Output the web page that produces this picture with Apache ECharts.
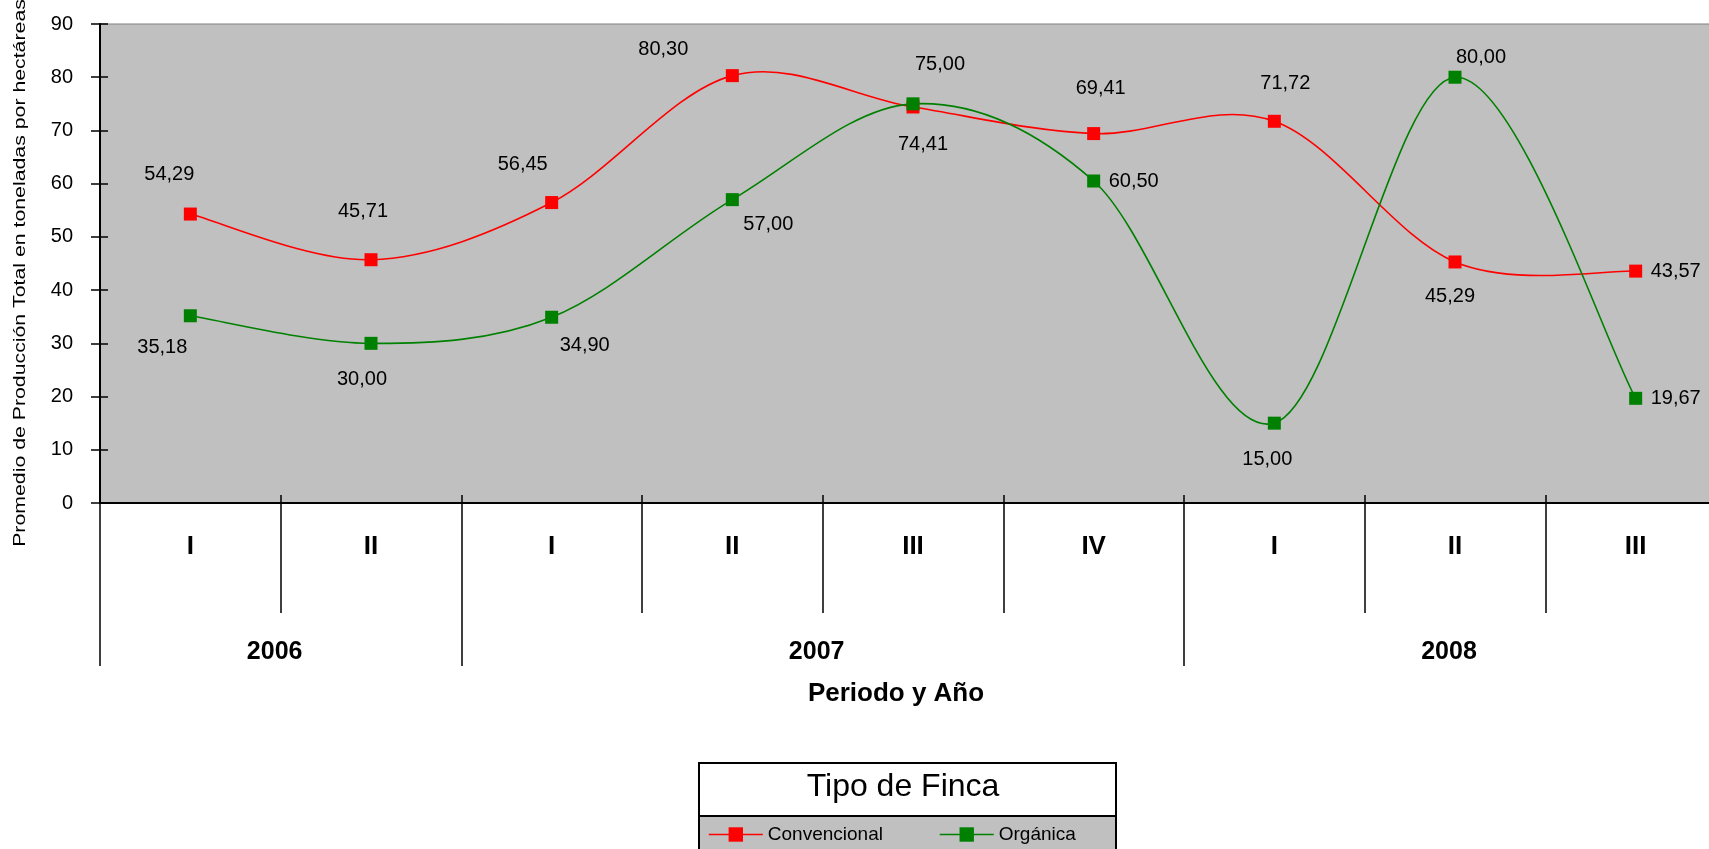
<!DOCTYPE html>
<html>
<head>
<meta charset="utf-8">
<script src="https://cdn.jsdelivr.net/npm/echarts@6/dist/echarts.min.js"></script>
<style>
  html, body { margin: 0; padding: 0; background: #fff; overflow: hidden; }
  /* the plot area runs on past the right edge of the page */
  #chart { width: 1760px; height: 849px; }
</style>
</head>
<body>
<div id="chart"></div>
<script>
// Periods (quarters / cuatrimestres) and the year each run of periods belongs to
const periods = ['I', 'II', 'I', 'II', 'III', 'IV', 'I', 'II', 'III'];
const years = ['2006', '2007', '2008'];
const yearSpans = [[0, 2], [2, 6], [6, 9]]; // [first period, end period) for each year

// Average production (t/ha) by type of farm
const convencional = [54.29, 45.71, 56.45, 80.30, 74.41, 69.41, 71.72, 45.29, 43.57];
const organica     = [35.18, 30.00, 34.90, 57.00, 75.00, 60.50, 15.00, 80.00, 19.67];

// Value axis scale
const yMin = 0, yMax = 90, yStep = 10;

// Where each value label sits relative to its marker (px)
const convLabelOffsets = [[-21, -40], [-8, -48], [-29, -38], [-69, -26], [10, 38], [7, -45], [11, -38], [-5, 35], [40, 0]];
const orgLabelOffsets  = [[-28, 32], [-9, 36], [33, 28], [36, 25], [27, -39], [40, 0], [-7, 36], [26, -20], [40, 0]];

const FONT = '"Liberation Sans", Arial, sans-serif';
const RED = '#FF0000';
const GREEN = '#008000';
const LINE_W = 1.6;

const fmt = v => v.toFixed(2).replace('.', ',');

function seriesData(values, offsets) {
  return values.map((v, i) => ({ value: v, label: { offset: offsets[i] } }));
}

// Smoothed connecting curve: one cubic Bezier per pair of neighbouring points,
// with Catmull-Rom style tangents taken from the points on either side.
function curveRenderer(values, color) {
  const last = values.length - 1;
  return function (params, api) {
    const i = params.dataIndex;
    if (i >= last) return null;
    const pt = k => {
      const j = Math.max(0, Math.min(last, k));
      return api.coord([j, values[j]]);
    };
    const p0 = pt(i - 1), p1 = pt(i), p2 = pt(i + 1), p3 = pt(i + 2);
    return {
      type: 'bezierCurve',
      shape: {
        x1: p1[0], y1: p1[1], x2: p2[0], y2: p2[1],
        cpx1: p1[0] + (p2[0] - p0[0]) / 6, cpy1: p1[1] + (p2[1] - p0[1]) / 6,
        cpx2: p2[0] - (p3[0] - p1[0]) / 6, cpy2: p2[1] - (p3[1] - p1[1]) / 6
      },
      style: { stroke: color, lineWidth: LINE_W, fill: null }
    };
  };
}

const chart = echarts.init(document.getElementById('chart'), null, { renderer: 'canvas' });

const gridLeft = 100, gridTop = 24, gridWidth = 1626, gridHeight = 479;

const baseX = {
  type: 'category',
  data: periods,
  gridIndex: 0,
  position: 'bottom',
  boundaryGap: true,
  axisLabel: { show: false },
  axisLine: { show: false },
  splitLine: { show: false }
};

const labelStyle = {
  show: true, position: 'inside', color: '#000',
  fontFamily: FONT, fontSize: 20,
  formatter: p => fmt(p.value)
};

const option = {
  animation: false,
  backgroundColor: '#fff',
  grid: {
    left: gridLeft, top: gridTop, width: gridWidth, height: gridHeight,
    show: true, backgroundColor: '#C0C0C0', borderColor: '#808080', borderWidth: 1
  },
  xAxis: [
    {
      ...baseX,
      axisLine: { show: true, lineStyle: { color: '#000', width: 2 } },
      axisTick: { show: true, length: 110, lineStyle: { color: '#000', width: 1.5 } },
      axisLabel: {
        show: true, margin: 31, color: '#000',
        fontFamily: FONT, fontSize: 26, fontWeight: 'bold'
      }
    },
    {
      ...baseX,
      axisTick: { show: true, inside: true, length: 8, lineStyle: { color: '#000', width: 1.5 } }
    },
    {
      ...baseX,
      axisTick: {
        show: true, length: 163,
        interval: (index) => yearSpans.some(s => s[0] === index),
        lineStyle: { color: '#000', width: 1.5 }
      }
    }
  ],
  yAxis: [
    {
      type: 'value', min: yMin, max: yMax, interval: yStep,
      axisLine: { show: true, lineStyle: { color: '#000', width: 2 } },
      axisTick: { show: true, length: 9, lineStyle: { color: '#000', width: 1.5 } },
      axisLabel: { margin: 27, color: '#000', fontFamily: FONT, fontSize: 20 },
      splitLine: { show: false }
    },
    {
      type: 'value', min: yMin, max: yMax, interval: yStep, position: 'left',
      axisLine: { show: false },
      axisTick: { show: true, inside: true, length: 8, lineStyle: { color: '#000', width: 1.5 } },
      axisLabel: { show: false },
      splitLine: { show: false }
    }
  ],
  legend: {
    data: [
      { name: 'Convencional', lineStyle: { color: RED, width: LINE_W, opacity: 1 } },
      { name: 'Orgánica', lineStyle: { color: GREEN, width: LINE_W, opacity: 1 } }
    ],
    left: 708, top: 825,
    orient: 'horizontal',
    itemWidth: 54, itemHeight: 18, itemGap: 56,
    padding: 0,
    textStyle: { color: '#000', fontFamily: FONT, fontSize: 19 }
  },
  series: [
    {
      type: 'custom',
      renderItem: curveRenderer(convencional, RED),
      data: convencional.map((v, i) => [i, v]),
      encode: { x: 0, y: 1 },
      silent: true,
      z: 2
    },
    {
      type: 'custom',
      renderItem: curveRenderer(organica, GREEN),
      data: organica.map((v, i) => [i, v]),
      encode: { x: 0, y: 1 },
      silent: true,
      z: 2.5
    },
    {
      name: 'Convencional',
      type: 'line',
      data: seriesData(convencional, convLabelOffsets),
      symbol: 'rect', symbolSize: 13,
      itemStyle: { color: RED },
      lineStyle: { color: RED, width: LINE_W, opacity: 0 },
      label: labelStyle,
      z: 3
    },
    {
      name: 'Orgánica',
      type: 'line',
      data: seriesData(organica, orgLabelOffsets),
      symbol: 'rect', symbolSize: 13,
      itemStyle: { color: GREEN },
      lineStyle: { color: GREEN, width: LINE_W, opacity: 0 },
      label: labelStyle,
      z: 4
    }
  ]
};

chart.setOption(option);

// Year labels centred under their group of periods, plus titles and legend frame
const yearTexts = years.map((y, k) => {
  const [a, b] = yearSpans[k];
  const x0 = chart.convertToPixel({ xAxisIndex: 0 }, a);
  const x1 = chart.convertToPixel({ xAxisIndex: 0 }, b - 1);
  return {
    type: 'text',
    x: (x0 + x1) / 2 - 6, y: 652,
    style: {
      text: y, fill: '#000', align: 'center', verticalAlign: 'middle',
      font: 'bold 25px ' + FONT
    }
  };
});

chart.setOption({
  graphic: [
    ...yearTexts,
    {
      type: 'text',
      x: 896, y: 694,
      style: {
        text: 'Periodo y Año', fill: '#000', align: 'center', verticalAlign: 'middle',
        font: 'bold 26px ' + FONT
      }
    },
    {
      type: 'text',
      x: 21, y: 273,
      rotation: Math.PI / 2,
      scaleX: 1.33,
      style: {
        text: 'Promedio de Producción Total en toneladas por hectáreas',
        fill: '#000', align: 'center', verticalAlign: 'middle',
        font: '16px ' + FONT
      }
    },
    {
      type: 'rect', z: -1,
      shape: { x: 699, y: 763, width: 417, height: 110 },
      style: { fill: '#fff', stroke: '#000', lineWidth: 2 }
    },
    {
      type: 'rect', z: -1,
      shape: { x: 699, y: 816, width: 417, height: 60 },
      style: { fill: '#C0C0C0', stroke: '#000', lineWidth: 2 }
    },
    {
      type: 'text',
      x: 903, y: 787,
      style: {
        text: 'Tipo de Finca', fill: '#000', align: 'center', verticalAlign: 'middle',
        font: '32px ' + FONT
      }
    }
  ]
});
</script>
</body>
</html>
